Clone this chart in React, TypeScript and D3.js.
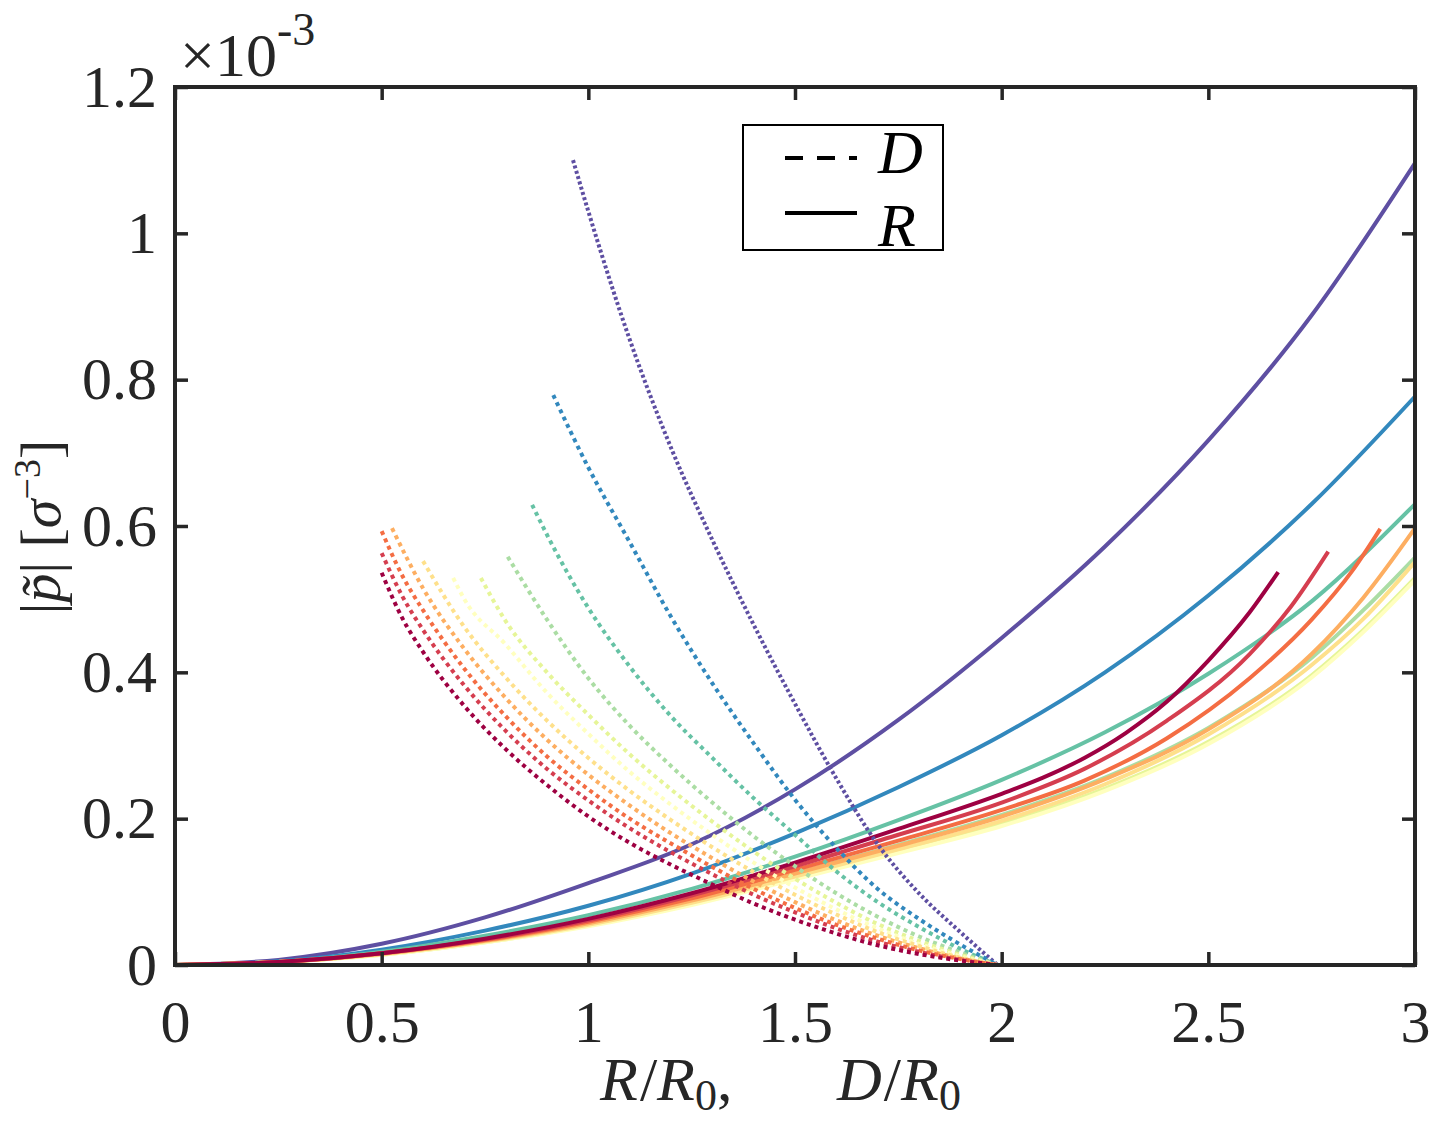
import React, { useEffect, useRef } from 'react';
import * as d3 from 'd3';

// |p~| in units of 1e-3 against R/R0 (solid) and D/R0 (dashed), one pair per colour
const X_TICKS = [0, 0.5, 1, 1.5, 2, 2.5, 3];
const Y_TICKS = [0, 0.2, 0.4, 0.6, 0.8, 1, 1.2];

const rPurple = [[0, 0], [0.25, 0.007], [0.5, 0.029], [0.75, 0.065], [1, 0.112], [1.25, 0.165], [1.5, 0.24], [1.75, 0.335], [2, 0.447], [2.25, 0.572], [2.5, 0.717], [2.75, 0.888], [3, 1.096]];
const dPurple = [[0.963, 1.1], [1, 1.03], [1.1, 0.855], [1.2, 0.707], [1.3, 0.581], [1.4, 0.465], [1.5, 0.357], [1.6, 0.255], [1.7, 0.165], [1.8, 0.098], [1.9, 0.045], [1.99, 0]];

const rBlue = [[0, 0], [0.25, 0.005], [0.5, 0.021], [0.75, 0.047], [1, 0.081], [1.25, 0.125], [1.5, 0.18], [1.75, 0.243], [2, 0.314], [2.25, 0.4], [2.5, 0.505], [2.75, 0.63], [3, 0.777]];
const dBlue = [[0.915, 0.779], [1, 0.68], [1.1, 0.578], [1.2, 0.476], [1.3, 0.385], [1.4, 0.303], [1.5, 0.226], [1.6, 0.16], [1.7, 0.104], [1.8, 0.063], [1.9, 0.028], [1.99, 0]];

const rTeal = [[0, 0], [0.25, 0.004], [0.5, 0.018], [0.75, 0.04], [1, 0.068], [1.25, 0.104], [1.5, 0.148], [1.75, 0.198], [2, 0.253], [2.25, 0.318], [2.5, 0.398], [2.75, 0.497], [3, 0.63]];
const dTeal = [[0.864, 0.629], [0.9, 0.588], [1, 0.488], [1.1, 0.408], [1.2, 0.34], [1.3, 0.283], [1.4, 0.228], [1.5, 0.178], [1.6, 0.128], [1.7, 0.086], [1.8, 0.052], [1.9, 0.022], [1.99, 0]];

const rLightGreen = [[0, 0], [0.25, 0.004], [0.5, 0.015], [0.75, 0.033], [1, 0.057], [1.25, 0.088], [1.5, 0.125], [1.75, 0.164], [2, 0.205], [2.25, 0.256], [2.5, 0.324], [2.75, 0.42], [2.875, 0.485], [3, 0.557]];
const dLightGreen = [[0.805, 0.558], [0.9, 0.472], [1, 0.392], [1.1, 0.327], [1.2, 0.272], [1.3, 0.222], [1.4, 0.176], [1.5, 0.135], [1.6, 0.098], [1.7, 0.066], [1.8, 0.039], [1.9, 0.017], [1.99, 0]];

const rYellowGreen = [[0, 0], [0.25, 0.004], [0.5, 0.014], [0.75, 0.031], [1, 0.054], [1.25, 0.083], [1.5, 0.119], [1.75, 0.155], [2, 0.193], [2.25, 0.241], [2.5, 0.305], [2.75, 0.396], [2.875, 0.458], [3, 0.529]];
const dYellowGreen = [[0.74, 0.529], [0.8, 0.47], [0.9, 0.4], [1, 0.342], [1.1, 0.288], [1.2, 0.24], [1.3, 0.196], [1.4, 0.155], [1.5, 0.118], [1.6, 0.085], [1.7, 0.056], [1.8, 0.033], [1.9, 0.014], [1.99, 0]];

const rPaleYellow = [[0, 0], [0.25, 0.004], [0.5, 0.014], [0.75, 0.031], [1, 0.053], [1.25, 0.082], [1.5, 0.117], [1.75, 0.153], [2, 0.19], [2.25, 0.238], [2.5, 0.302], [2.75, 0.393], [2.875, 0.455], [3, 0.526]];
const dPaleYellow = [[0.673, 0.529], [0.7, 0.5], [0.8, 0.438], [0.9, 0.372], [1, 0.316], [1.1, 0.264], [1.2, 0.219], [1.3, 0.178], [1.4, 0.14], [1.5, 0.106], [1.6, 0.076], [1.7, 0.05], [1.8, 0.029], [1.9, 0.012], [1.99, 0]];

const rYellow = [[0, 0], [0.25, 0.004], [0.5, 0.015], [0.75, 0.032], [1, 0.055], [1.25, 0.085], [1.5, 0.121], [1.75, 0.158], [2, 0.197], [2.25, 0.247], [2.5, 0.315], [2.75, 0.41], [2.875, 0.473], [3, 0.551]];
const dYellow = [[0.6, 0.552], [0.7, 0.462], [0.8, 0.393], [0.9, 0.334], [1, 0.283], [1.1, 0.238], [1.2, 0.198], [1.3, 0.161], [1.4, 0.127], [1.5, 0.096], [1.6, 0.069], [1.7, 0.045], [1.8, 0.026], [1.9, 0.01], [1.99, 0]];

const rLightOrange = [[0, 0], [0.25, 0.004], [0.5, 0.015], [0.75, 0.033], [1, 0.057], [1.25, 0.088], [1.5, 0.125], [1.75, 0.163], [2, 0.203], [2.25, 0.254], [2.5, 0.322], [2.75, 0.425], [2.875, 0.502], [3, 0.597]];
const dLightOrange = [[0.525, 0.597], [0.6, 0.515], [0.7, 0.432], [0.8, 0.365], [0.9, 0.308], [1, 0.26], [1.1, 0.218], [1.2, 0.18], [1.3, 0.146], [1.4, 0.114], [1.5, 0.086], [1.6, 0.061], [1.7, 0.04], [1.8, 0.023], [1.9, 0.009], [1.99, 0]];

const rOrange = [[0, 0], [0.25, 0.004], [0.5, 0.016], [0.75, 0.034], [1, 0.059], [1.25, 0.091], [1.5, 0.13], [1.75, 0.17], [2, 0.212], [2.2, 0.252], [2.4, 0.31], [2.6, 0.392], [2.75, 0.472], [2.85, 0.54], [2.916, 0.596]];
const dOrange = [[0.5, 0.593], [0.55, 0.532], [0.6, 0.485], [0.7, 0.405], [0.8, 0.34], [0.9, 0.285], [1, 0.24], [1.1, 0.2], [1.2, 0.166], [1.3, 0.134], [1.4, 0.104], [1.5, 0.078], [1.6, 0.055], [1.7, 0.036], [1.8, 0.02], [1.9, 0.008], [1.99, 0]];

const rRed = [[0, 0], [0.25, 0.004], [0.5, 0.016], [0.75, 0.035], [1, 0.061], [1.25, 0.095], [1.5, 0.135], [1.75, 0.178], [2, 0.222], [2.2, 0.268], [2.4, 0.334], [2.6, 0.425], [2.7, 0.49], [2.79, 0.565]];
const dRed = [[0.5, 0.563], [0.55, 0.504], [0.6, 0.458], [0.7, 0.382], [0.8, 0.32], [0.9, 0.268], [1, 0.225], [1.1, 0.187], [1.2, 0.154], [1.3, 0.124], [1.4, 0.096], [1.5, 0.072], [1.6, 0.05], [1.7, 0.032], [1.8, 0.018], [1.9, 0.007], [1.99, 0]];

const rDarkRed = [[0, 0], [0.25, 0.004], [0.5, 0.016], [0.75, 0.036], [1, 0.063], [1.25, 0.098], [1.5, 0.14], [1.75, 0.186], [2, 0.234], [2.1, 0.256], [2.2, 0.283], [2.3, 0.317], [2.4, 0.36], [2.5, 0.416], [2.6, 0.482], [2.669, 0.537]];
const dDarkRed = [[0.5, 0.536], [0.55, 0.474], [0.6, 0.428], [0.7, 0.354], [0.8, 0.295], [0.9, 0.246], [1, 0.203], [1.1, 0.167], [1.2, 0.137], [1.3, 0.11], [1.4, 0.084], [1.5, 0.062], [1.6, 0.043], [1.7, 0.027], [1.8, 0.015], [1.9, 0.006], [1.99, 0]];

// plotted purple first, dark red last
const R_CURVES = [rPurple, rBlue, rTeal, rLightGreen, rYellowGreen, rPaleYellow, rYellow, rLightOrange, rOrange, rRed, rDarkRed];
const D_CURVES = [dPurple, dBlue, dTeal, dLightGreen, dYellowGreen, dPaleYellow, dYellow, dLightOrange, dOrange, dRed, dDarkRed];
const COLORS = d3.schemeSpectral[11].slice().reverse();

const W = 1452;
const H = 1125;
const BOX = { left: 175, right: 1415, top: 87, bottom: 965 };
const INK = '#262626';
const FONT = "'Liberation Serif', 'DejaVu Serif', serif";

const App: React.FC = () => {
  const svgRef = useRef<SVGSVGElement>(null);

  useEffect(() => {
    if (!svgRef.current) return;
    document.body.style.margin = '0';
    const svg = d3.select(svgRef.current);
    svg.selectAll('*').remove();

    const x = d3.scaleLinear().domain([0, 3]).range([BOX.left, BOX.right]);
    const y = d3.scaleLinear().domain([0, 1.2]).range([BOX.bottom, BOX.top]);

    const line = d3.line<number[]>()
      .x(d => x(d[0]))
      .y(d => y(d[1]))
      .curve(d3.curveMonotoneX);

    const plot = svg.append('g');

    R_CURVES.forEach((c, i) => {
      plot.append('path')
        .attr('d', line(c))
        .attr('fill', 'none')
        .attr('stroke', COLORS[i])
        .attr('stroke-width', 4);
    });

    D_CURVES.forEach((c, i) => {
      plot.append('path')
        .attr('d', line(c))
        .attr('fill', 'none')
        .attr('stroke', COLORS[i])
        .attr('stroke-width', 4)
        .attr('stroke-dasharray', i === 0 ? '3,2.5' : '4,4');
    });

    // axes, ticks pointing inward on all four sides
    const styleAxis = (g: d3.Selection<SVGGElement, unknown, null, undefined>) => {
      g.select('.domain').remove();
      g.selectAll('.tick line').attr('stroke', INK).attr('stroke-width', 3.5);
      g.selectAll('.tick text').attr('fill', INK);
      g.attr('font-size', 60).style('font-family', FONT);
    };

    svg.append('g')
      .attr('transform', `translate(0,${BOX.bottom})`)
      .call(d3.axisBottom(x).tickValues(X_TICKS).tickSize(-13).tickPadding(34).tickFormat(d => String(d)))
      .call(styleAxis);

    svg.append('g')
      .attr('transform', `translate(${BOX.left},0)`)
      .call(d3.axisLeft(y).tickValues(Y_TICKS).tickSize(-13).tickPadding(18).tickFormat(d => String(d)))
      .call(styleAxis);

    svg.append('g')
      .attr('transform', `translate(0,${BOX.top})`)
      .call(d3.axisTop(x).tickValues(X_TICKS).tickSize(-13).tickFormat(() => ''))
      .call(styleAxis);

    svg.append('g')
      .attr('transform', `translate(${BOX.right},0)`)
      .call(d3.axisRight(y).tickValues(Y_TICKS).tickSize(-13).tickFormat(() => ''))
      .call(styleAxis);

    svg.append('rect')
      .attr('x', BOX.left).attr('y', BOX.top)
      .attr('width', BOX.right - BOX.left).attr('height', BOX.bottom - BOX.top)
      .attr('fill', 'none').attr('stroke', INK).attr('stroke-width', 4);

    // exponent
    const expo = svg.append('text')
      .attr('x', 180).attr('y', 76)
      .attr('font-size', 62).attr('fill', INK).style('font-family', FONT);
    expo.append('tspan').text('×10');
    expo.append('tspan').attr('font-size', 46).attr('dy', -31).text('-3');

    // x label
    const xl = svg.append('g')
      .attr('font-size', 62).attr('fill', INK).style('font-family', FONT);
    const addFrac = (x0: number, sym: string, comma: boolean) => {
      const t = xl.append('text').attr('x', x0).attr('y', 1100);
      t.append('tspan').attr('font-style', 'italic').text(sym);
      t.append('tspan').attr('dx', 2).text('/');
      t.append('tspan').attr('font-style', 'italic').text('R');
      t.append('tspan').attr('font-size', 44).attr('dy', 10).text('0');
      if (comma) t.append('tspan').attr('dy', -10).text(',');
    };
    addFrac(600, 'R', true);
    addFrac(837, 'D', false);

    // y label
    const yl = svg.append('text')
      .attr('transform', 'translate(60,527) rotate(-90)')
      .attr('text-anchor', 'middle')
      .attr('font-size', 58).attr('fill', INK).style('font-family', FONT);
    yl.append('tspan').text('|');
    yl.append('tspan').attr('font-style', 'italic').text('p\u0303');
    yl.append('tspan').text('| [');
    yl.append('tspan').attr('font-style', 'italic').text('σ');
    yl.append('tspan').attr('font-size', 38).attr('dy', -20).text('−3');
    yl.append('tspan').attr('dy', 20).text(']');

    // legend
    const lg = svg.append('g');
    lg.append('rect')
      .attr('x', 743).attr('y', 125).attr('width', 200).attr('height', 125)
      .attr('fill', '#fff').attr('stroke', '#000').attr('stroke-width', 2);
    lg.append('line')
      .attr('x1', 785).attr('x2', 857).attr('y1', 158).attr('y2', 158)
      .attr('stroke', '#000').attr('stroke-width', 4).attr('stroke-dasharray', '18,14');
    lg.append('line')
      .attr('x1', 785).attr('x2', 857).attr('y1', 213).attr('y2', 213)
      .attr('stroke', '#000').attr('stroke-width', 4);
    lg.append('text').attr('x', 878).attr('y', 173)
      .attr('font-size', 62).attr('font-style', 'italic').style('font-family', FONT).text('D');
    lg.append('text').attr('x', 878).attr('y', 246)
      .attr('font-size', 62).attr('font-style', 'italic').style('font-family', FONT).text('R');
  }, []);

  return (
    <svg ref={svgRef} width={W} height={H} viewBox={`0 0 ${W} ${H}`} style={{ display: 'block', background: '#fff' }} />
  );
};

export default App;
